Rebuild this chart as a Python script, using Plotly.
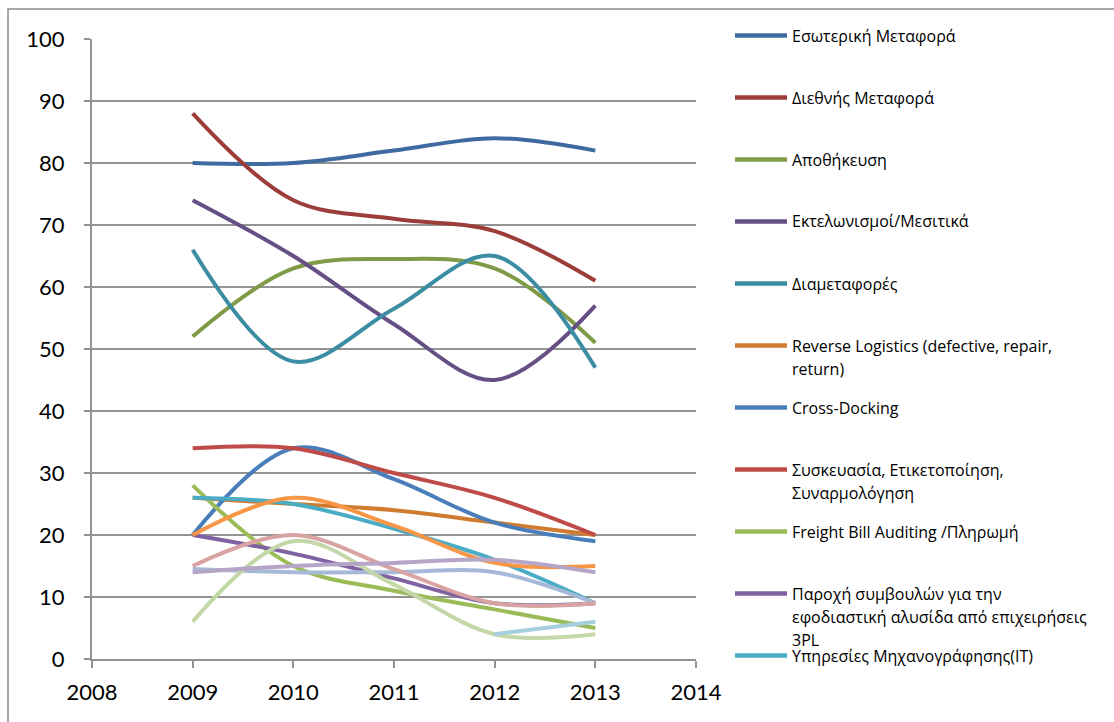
import plotly.graph_objects as go

years = [2009, 2010, 2011, 2012, 2013]

names = [
    "Εσωτερική Μεταφορά",
    "Διεθνής Μεταφορά",
    "Αποθήκευση",
    "Εκτελωνισμοί/Μεσιτικά",
    "Διαμεταφορές",
    "Reverse Logistics (defective, repair, return)",
    "Cross-Docking",
    "Συσκευασία, Ετικετοποίηση, Συναρμολόγηση",
    "Freight Bill Auditing /Πληρωμή",
    "Παροχή συμβουλών για την εφοδιαστική αλυσίδα από επιχειρήσεις 3PL",
    "Υπηρεσίες Μηχανογράφησης(IT)",
    "Σειρά 12",
    "Σειρά 13",
    "Σειρά 14",
    "Σειρά 15",
    "Σειρά 16",
    "Σειρά 17",
]

# legend lines as wrapped in the reference (only the first 11 entries are visible)
legend_lines = [
    ["Εσωτερική Μεταφορά"],
    ["Διεθνής Μεταφορά"],
    ["Αποθήκευση"],
    ["Εκτελωνισμοί/Μεσιτικά"],
    ["Διαμεταφορές"],
    ["Reverse Logistics (defective, repair,", "return)"],
    ["Cross-Docking"],
    ["Συσκευασία, Ετικετοποίηση,", "Συναρμολόγηση"],
    ["Freight Bill Auditing /Πληρωμή"],
    ["Παροχή συμβουλών για την", "εφοδιαστική αλυσίδα από επιχειρήσεις", "3PL"],
    ["Υπηρεσίες Μηχανογράφησης(IT)"],
]

s01 = [80, 80, 82, 84, 82]
s02 = [88, 74, 71, 69, 61]
s03 = [52, 63, 64.5, 63, 51]
s04 = [74, 65, 54, 45, 57]
s05 = [66, 48, 56.5, 65, 47]
s06 = [26, 25, 24, 22, 20]
s07 = [20, 34, 29, 22, 19]
s08 = [34, 34, 30, 26, 20]
s09 = [28, 15, 11, 8, 5]
s10 = [20, 17, 13, 9, 9]
s11 = [26, 25, 21, 16, 9]
s12 = [20, 26, 21.5, 15.5, 15]
s13 = [14.5, 14, 14, 14, 9]
s14 = [15, 20, 14.5, 9, 9]
s15 = [6, 19, 12, 4, 4]
s16 = [14, 15, 15.5, 16, 14]
s17 = [None, None, None, 4, 6]

series = [s01, s02, s03, s04, s05, s06, s07, s08, s09, s10, s11, s12,
          s13, s14, s15, s16, s17]

colors = [
    "#3F6AA0", "#9C3D3A", "#7F9B47", "#664F85", "#3A8DA2", "#D07C30",
    "#4A7EBB", "#BE4B48", "#9BBB59", "#7E62A1", "#4BACC6", "#F79646",
    "#A7B9D8", "#D9A3A2", "#C4D7A8", "#B5A6C8", "#A6CFDD",
]

x_ticks = [2008, 2009, 2010, 2011, 2012, 2013, 2014]
y_ticks = [0, 10, 20, 30, 40, 50, 60, 70, 80, 90, 100]

W, H = 1114, 722
ML, MR, MT, MB = 92, 418, 39, 63
PW, PH = W - ML - MR, H - MT - MB

def px_to_paper_x(px):
    return (px - ML) / PW

def px_to_paper_y(py):
    return (H - MB - py) / PH

fig = go.Figure()
for name, vals, col in zip(names, series, colors):
    fig.add_trace(go.Scatter(
        x=years, y=vals, name=name, mode="lines",
        line=dict(color=col, width=4, shape="spline", smoothing=1),
        showlegend=False, connectgaps=False,
    ))

grid = "#939393"
tick_font = dict(family="Lato, Open Sans, sans-serif", size=22, color="#000")
fig.update_xaxes(
    range=[2008, 2014], tickvals=x_ticks, ticktext=[str(t) for t in x_ticks],
    showgrid=False, zeroline=False, showline=True, linecolor=grid, linewidth=2,
    ticks="outside", ticklen=7, tickwidth=2, tickcolor=grid,
    tickfont=tick_font, ticklabelstandoff=6,
)
fig.update_yaxes(
    range=[0, 100], tickvals=y_ticks, ticktext=[str(t) for t in y_ticks],
    showgrid=True, gridcolor=grid, gridwidth=2, zeroline=False,
    showline=True, linecolor=grid, linewidth=2,
    ticks="outside", ticklen=6, tickwidth=2, tickcolor=grid,
    tickfont=tick_font, ticklabelstandoff=15,
)

shapes = []
annotations = []
# outer chart border (cropped on the right and bottom)
shapes.append(dict(type="rect", xref="paper", yref="paper",
                   x0=px_to_paper_x(8), x1=px_to_paper_x(W + 20),
                   y0=px_to_paper_y(H + 20), y1=px_to_paper_y(9),
                   line=dict(color="#8A8A8A", width=1.5), fillcolor="rgba(0,0,0,0)",
                   layer="below"))

# manual legend
entry_top = 35.5
entry_step = 62
line_step = 23
for i, lines in enumerate(legend_lines):
    cy = entry_top + i * entry_step
    shapes.append(dict(type="line", xref="paper", yref="paper",
                       x0=px_to_paper_x(735), x1=px_to_paper_x(787),
                       y0=px_to_paper_y(cy), y1=px_to_paper_y(cy),
                       line=dict(color=colors[i], width=4.5)))
    for j, txt in enumerate(lines):
        annotations.append(dict(
            xref="paper", yref="paper", x=px_to_paper_x(790),
            y=px_to_paper_y(cy + j * line_step), text=txt, showarrow=False,
            xanchor="left", yanchor="middle",
            font=dict(family="Open Sans, Noto Sans, sans-serif", size=16, color="#000"),
        ))

fig.update_layout(
    width=W, height=H,
    margin=dict(l=ML, r=MR, t=MT, b=MB),
    paper_bgcolor="white", plot_bgcolor="white",
    shapes=shapes, annotations=annotations,
    showlegend=False,
)

fig.write_html("out.html")
